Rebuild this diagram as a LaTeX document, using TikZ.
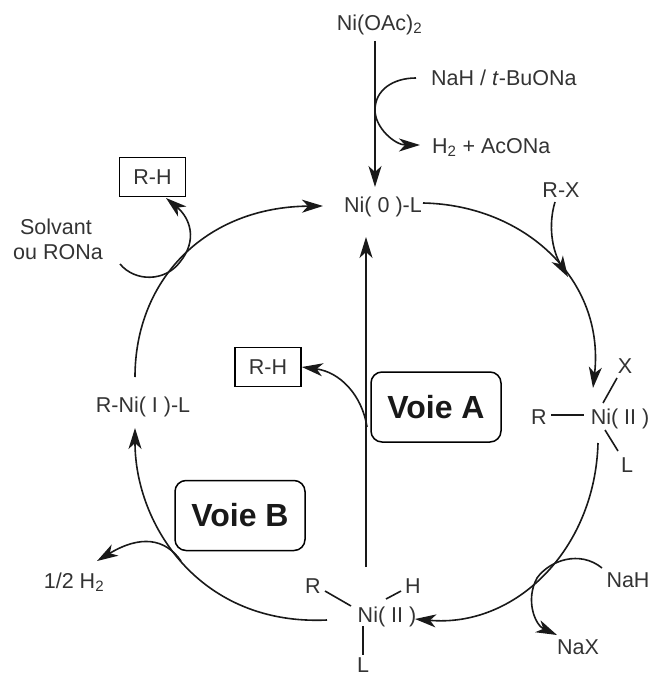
\documentclass[tikz,border=0pt]{standalone}
\usepackage{fontspec}
\setmainfont{Liberation Sans}
\usetikzlibrary{arrows.meta,calc}
\tikzset{
 lbl/.style={inner sep=0pt,anchor=base,font=\fontsize{21.5}{25}\selectfont,text=black!80},
 lbw/.style={lbl,anchor=base west},
 bigl/.style={draw,line width=1.5pt,rounded corners=11pt,font=\fontsize{32}{36}\selectfont\bfseries,text=black!90,inner sep=0pt,minimum width=130pt,minimum height=70pt},
 boxl/.style={draw,line width=1.6pt,inner sep=0pt,font=\fontsize{21.5}{25}\selectfont,text=black!80,minimum width=66pt,minimum height=39pt},
 ln/.style={line width=1.6pt,black!90},
 arr/.style={ln,-{Stealth[length=21pt,width=13pt,inset=6pt]}},
}
\begin{document}
\begin{tikzpicture}[x=1pt,y=-1pt]
\useasboundingbox (0,0) rectangle (651,677);
\node[lbl] (niac) at (379.5,30.5) {Ni(OAc)\textsubscript{2}};
\node[lbw] (nah) at (431,85.5) {NaH / \textit{t}-BuONa};
\node[lbw] (h2) at (432,153.5) {H\textsubscript{2} + AcONa};
\node[lbl] (ni0) at (383,212.5) {Ni( 0 )-L};
\node[lbl] (rx) at (561,197.5) {R-X};
\node[lbl] (rni1) at (143,412.5) {R-Ni( I )-L};
\node[lbl] (niir) at (620,424.5) {Ni( II )};
\node[lbl] (rr) at (539,424.5) {R};
\node[lbl] (xx) at (625,373.5) {X};
\node[lbl] (ll) at (627,472.5) {L};
\node[lbl] (niib) at (387,622.5) {Ni( II )};
\node[lbl] (rb) at (313,593) {R};
\node[lbl] (hb) at (413,593) {H};
\node[lbl] (ln2) at (363,672.5) {L};
\node[lbl] (nah2) at (628,587.5) {NaH};
\node[lbl] (nax) at (578,654.5) {NaX};
\node[lbl] (hh) at (74,588.5) {1/2 H\textsubscript{2}};
\node[lbl] (solv) at (56,234.5) {Solvant};
\node[lbl] (ou) at (58,259.5) {ou RONa};
\node[boxl] (rh1) at (152.5,177) {R-H};
\node[boxl] (rh2) at (268,367) {R-H};
\node[bigl] (va) at (436,407) {Voie A};
\node[bigl] (vb) at (240,515.5) {Voie B};
% named ends
\coordinate (e1) at (375,41);
\coordinate (e2) at (375,187);
\coordinate (e3) at (416,78);
\coordinate (e4) at (420,145);
\coordinate (c1) at (135,377);
\coordinate (c2) at (323,206);
\coordinate (c3) at (423,203);
\coordinate (c4) at (593,388);
\coordinate (c5) at (598,443);
\coordinate (c6) at (415,619);
\coordinate (c7) at (327,620);
\coordinate (c8) at (135,428);
\coordinate (v1) at (366,567);
\coordinate (v2) at (366,237);
\coordinate (s1) at (120,264);
\coordinate (s2) at (166,198);
% arrow into Ni(0)
\draw[arr] (e1) -- (e2);
\draw[arr] (e3) .. controls (393,78) and (375,90) .. (375,110) .. controls (375,128) and (395,145) .. (e4);
% cycle
\draw[arr] (c1) .. controls (135,280) and (205,207) .. (c2);
\draw[arr] (c3) .. controls (525,205) and (605,280) .. (c4);
\draw[arr] (c5) .. controls (595,550) and (515,628) .. (c6);
\draw[arr] (c7) .. controls (200,626) and (135,525) .. (c8);
% central
\draw[arr] (v1) -- (v2);
\draw[arr] (367,427) .. controls (362,395) and (340,372) .. (rh2.east);
% solvant
\draw[arr] (s1) .. controls (135,282) and (165,282) .. (180,262) .. controls (198,240) and (190,218) .. (s2);
% 1/2 H2
\draw[arr] (181,561) .. controls (165,538) and (140,535) .. (97,561);
% NaH/NaX
\draw[arr] (602,568) .. controls (580,550) and (550,560) .. (537,578) .. controls (525,600) and (535,625) .. (557,635);
% R-X
\draw[arr] (555,202) .. controls (548,225) and (552,250) .. (568,277);
% ligand bonds
\draw[ln] (551,415) -- (584,415);
\draw[ln] (603,403) -- (617,378);
\draw[ln] (605,430) -- (618,451);
\draw[ln] (325,591) -- (351,606);
\draw[ln] (386,599) -- (401,591);
\draw[ln] (363,626) -- (363,655);
\end{tikzpicture}
\end{document}
